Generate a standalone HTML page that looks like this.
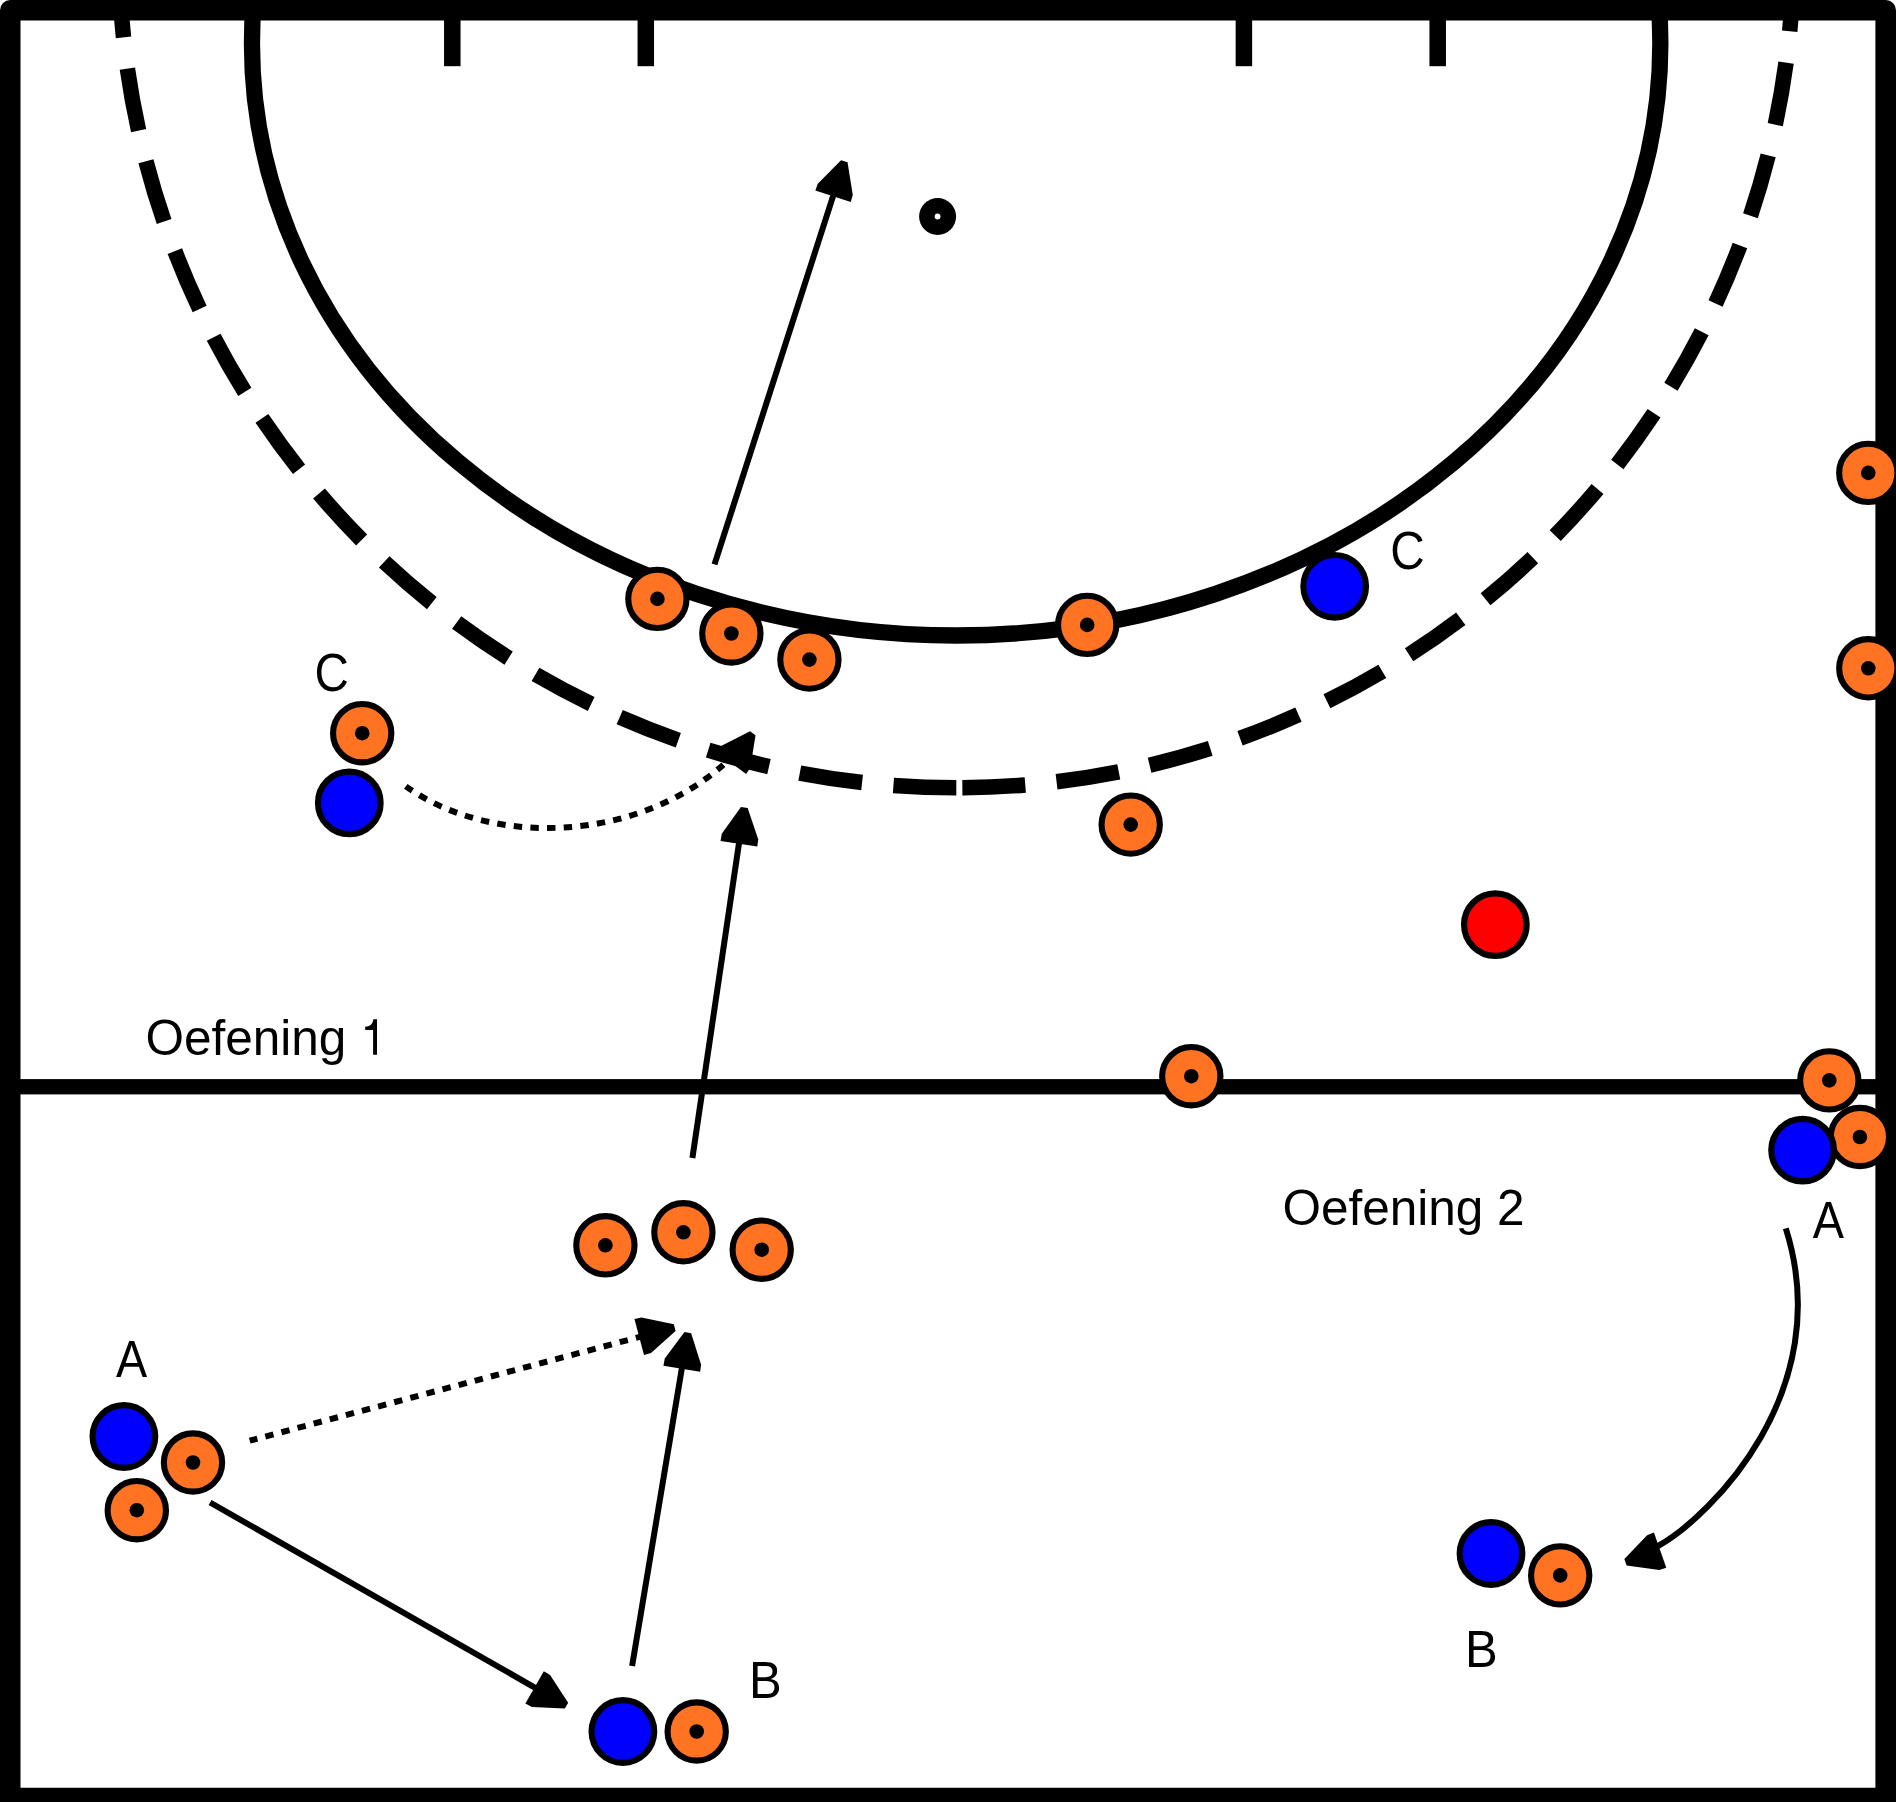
<!DOCTYPE html>
<html><head><meta charset="utf-8"><style>
html,body{margin:0;padding:0;background:#fff;}
svg{display:block;}
text{font-family:"Liberation Sans",sans-serif;fill:#000;}
</style></head><body>
<svg width="1896" height="1802" viewBox="0 0 1896 1802">
<rect width="1896" height="1802" fill="#fff"/>
<ellipse cx="956.15" cy="43.5" rx="704.2" ry="592" fill="none" stroke="#000" stroke-width="16.3"/>
<path d="M956.3 787.8 A837.3 837.3 0 0 1 119 -49.5" fill="none" stroke="#000" stroke-width="15.5" stroke-dasharray="63 31.46" stroke-dashoffset="94.46"/>
<path d="M956.3 787.8 A837.3 837.3 0 0 0 1793.6 -49.5" fill="none" stroke="#000" stroke-width="15.5" stroke-dasharray="63 31.46" stroke-dashoffset="88.36"/>
<rect x="444.05" y="10" width="16.5" height="56.2" fill="#000"/>
<rect x="637.55" y="10" width="16.5" height="56.2" fill="#000"/>
<rect x="1235.65" y="10" width="16.5" height="56.2" fill="#000"/>
<rect x="1429.45" y="10" width="16.5" height="56.2" fill="#000"/>
<rect x="10" y="1079.1" width="1876" height="15.3" fill="#000"/>
<path fill-rule="evenodd" fill="#000" d="M0 10.25A10.25 10.25 0 0 1 10.25 0H1885.75A10.25 10.25 0 0 1 1896 10.25V1802H0Z M20.5 20.5H1875.4V1787.7H20.5Z"/>
<circle cx="937.6" cy="216.5" r="18.5" fill="#000"/><circle cx="937.6" cy="216.5" r="2.9" fill="#fff"/>
<path d="M714.5 564.4 L833.88 193.66" stroke="#000" stroke-width="6" fill="none"/>
<polygon points="841.06,160.26 847.54,162.34 852.8,194.92 850.76,201.93 815.35,190.53 817.77,183.65" fill="#000"/>
<path d="M692.4 1158 L739.32 841.03" stroke="#000" stroke-width="6" fill="none"/>
<polygon points="740.94,806.9 747.66,807.9 758.2,839.18 757.33,846.43 720.53,840.98 721.79,833.79" fill="#000"/>
<path d="M210.1 1502.5 L536.96 1688.77" stroke="#000" stroke-width="6" fill="none"/>
<polygon points="568.18,1702.65 564.82,1708.55 531.85,1707.03 525.4,1703.59 543.82,1671.27 550.07,1675.06" fill="#000"/>
<path d="M632.1 1666.1 L682.2 1366.14" stroke="#000" stroke-width="6" fill="none"/>
<polygon points="684.45,1332.04 691.15,1333.16 701.11,1364.63 700.1,1371.86 663.41,1365.73 664.81,1358.57" fill="#000"/>
<path d="M249.7 1440.7 L641.84 1336.34" stroke="#000" stroke-width="6" fill="none" stroke-dasharray="8.4 8.27" stroke-dashoffset="0.5"/>
<polygon points="673.83,1324.31 675.57,1330.89 651.02,1352.94 644.02,1355.01 634.45,1319.06 641.56,1317.38" fill="#000"/>
<path d="M405.8 786.4 C493.11 848.12 636.64 841.38 723.4 764.7" stroke="#000" stroke-width="6" fill="none" stroke-dasharray="8.4 8.27" stroke-dashoffset="0.5"/>
<polygon points="750.06,731.29 755.54,735.31 750.27,767.89 746.12,773.9 716.11,751.92 720.58,746.15" fill="#000"/>
<path d="M1785.8 1228.3 C1837.36 1391.53 1710.0 1516.05 1659.92 1544.93 L1652.5 1549.2" stroke="#000" stroke-width="6" fill="none"/>
<polygon points="1626.63,1565.51 1624.37,1559.09 1647.12,1535.18 1653.94,1532.57 1666.29,1567.66 1659.34,1569.89" fill="#000"/>
<circle cx="657.4" cy="598.9" r="29.15" fill="#FF7322" stroke="#000" stroke-width="6.1"/><circle cx="657.4" cy="598.9" r="7.3" fill="#000"/>
<circle cx="731.35" cy="633.5" r="29.15" fill="#FF7322" stroke="#000" stroke-width="6.1"/><circle cx="731.35" cy="633.5" r="7.3" fill="#000"/>
<circle cx="809.4" cy="659.6" r="29.15" fill="#FF7322" stroke="#000" stroke-width="6.1"/><circle cx="809.4" cy="659.6" r="7.3" fill="#000"/>
<circle cx="1087.2" cy="624.9" r="29.15" fill="#FF7322" stroke="#000" stroke-width="6.1"/><circle cx="1087.2" cy="624.9" r="7.3" fill="#000"/>
<circle cx="1868.3" cy="472.9" r="29.15" fill="#FF7322" stroke="#000" stroke-width="6.1"/><circle cx="1868.3" cy="472.9" r="7.3" fill="#000"/>
<circle cx="1868.3" cy="668.3" r="29.15" fill="#FF7322" stroke="#000" stroke-width="6.1"/><circle cx="1868.3" cy="668.3" r="7.3" fill="#000"/>
<circle cx="362.2" cy="733.2" r="29.15" fill="#FF7322" stroke="#000" stroke-width="6.1"/><circle cx="362.2" cy="733.2" r="7.3" fill="#000"/>
<circle cx="1130.7" cy="824.6" r="29.15" fill="#FF7322" stroke="#000" stroke-width="6.1"/><circle cx="1130.7" cy="824.6" r="7.3" fill="#000"/>
<circle cx="1191.3" cy="1076.2" r="29.15" fill="#FF7322" stroke="#000" stroke-width="6.1"/><circle cx="1191.3" cy="1076.2" r="7.3" fill="#000"/>
<circle cx="605.4" cy="1245.3" r="29.15" fill="#FF7322" stroke="#000" stroke-width="6.1"/><circle cx="605.4" cy="1245.3" r="7.3" fill="#000"/>
<circle cx="683.4" cy="1232.3" r="29.15" fill="#FF7322" stroke="#000" stroke-width="6.1"/><circle cx="683.4" cy="1232.3" r="7.3" fill="#000"/>
<circle cx="761.7" cy="1249.7" r="29.15" fill="#FF7322" stroke="#000" stroke-width="6.1"/><circle cx="761.7" cy="1249.7" r="7.3" fill="#000"/>
<circle cx="193" cy="1462.5" r="29.15" fill="#FF7322" stroke="#000" stroke-width="6.1"/><circle cx="193" cy="1462.5" r="7.3" fill="#000"/>
<circle cx="136.8" cy="1510.2" r="29.15" fill="#FF7322" stroke="#000" stroke-width="6.1"/><circle cx="136.8" cy="1510.2" r="7.3" fill="#000"/>
<circle cx="696.7" cy="1731.5" r="29.15" fill="#FF7322" stroke="#000" stroke-width="6.1"/><circle cx="696.7" cy="1731.5" r="7.3" fill="#000"/>
<circle cx="1560.2" cy="1575.4" r="29.15" fill="#FF7322" stroke="#000" stroke-width="6.1"/><circle cx="1560.2" cy="1575.4" r="7.3" fill="#000"/>
<circle cx="1859.9" cy="1137" r="29.15" fill="#FF7322" stroke="#000" stroke-width="6.1"/><circle cx="1859.9" cy="1137" r="7.3" fill="#000"/>
<circle cx="1829.3" cy="1080.4" r="29.15" fill="#FF7322" stroke="#000" stroke-width="6.1"/><circle cx="1829.3" cy="1080.4" r="7.3" fill="#000"/>
<circle cx="1334.7" cy="586.3" r="31.3" fill="#0000FF" stroke="#000" stroke-width="6.2"/>
<circle cx="349.3" cy="802.9" r="31.3" fill="#0000FF" stroke="#000" stroke-width="6.2"/>
<circle cx="1802.6" cy="1150.1" r="31.3" fill="#0000FF" stroke="#000" stroke-width="6.2"/>
<circle cx="123.9" cy="1436.5" r="31.3" fill="#0000FF" stroke="#000" stroke-width="6.2"/>
<circle cx="622.9" cy="1731.5" r="31.3" fill="#0000FF" stroke="#000" stroke-width="6.2"/>
<circle cx="1491" cy="1553.5" r="31.3" fill="#0000FF" stroke="#000" stroke-width="6.2"/>
<circle cx="1495.35" cy="924.6" r="31.3" fill="#FF0000" stroke="#000" stroke-width="6.2"/>
<text transform="translate(1390.37 569.27) scale(0.8920 1)" font-size="53.5">C</text>
<text transform="translate(314.57 691.27) scale(0.8890 1)" font-size="53.5">C</text>
<text transform="translate(115.91 1376.9) scale(0.8960 1)" font-size="52.2">A</text>
<text transform="translate(1812.81 1237.9) scale(0.8970 1)" font-size="52.2">A</text>
<text transform="translate(748.88 1697.9) scale(0.9400 1)" font-size="52.2">B</text>
<text transform="translate(1464.88 1666.9) scale(0.9400 1)" font-size="52.2">B</text>
<text transform="translate(145.43 1054.83) scale(1.0000 1)" font-size="49.5">Oefening</text>
<path d="M373.4 1019.2H377.0V1054.83H373.1V1029.9H365.2V1026.7C369.6 1026.5 372.5 1024.6 373.4 1019.2Z" fill="#000"/>
<text transform="translate(1282.43 1224.8) scale(1.0000 1)" font-size="49.5">Oefening 2</text>
</svg>
</body></html>
